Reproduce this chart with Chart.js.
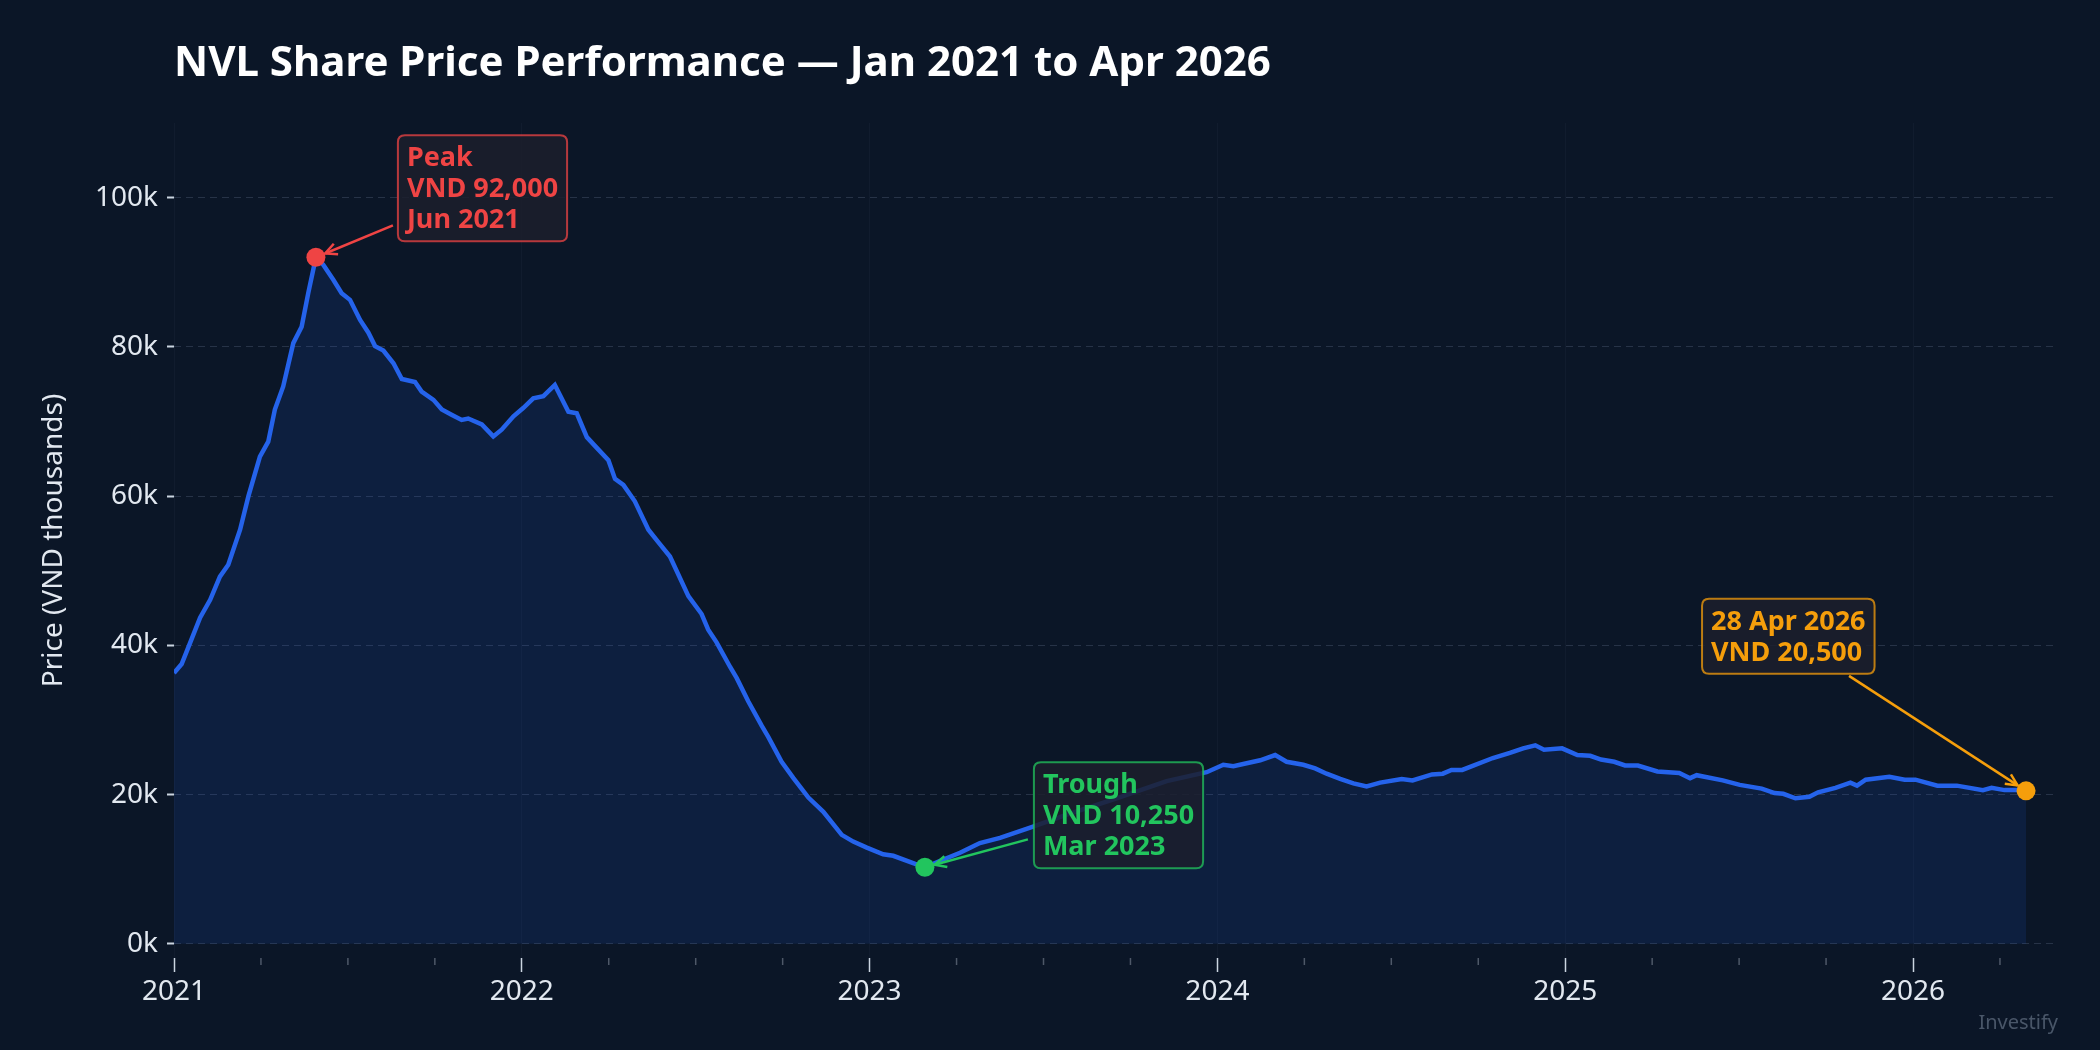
<!DOCTYPE html>
<html>
<head>
<meta charset="utf-8">
<title>NVL Share Price Performance</title>
<script src="https://cdn.jsdelivr.net/npm/chart.js@4.4.1/dist/chart.umd.min.js"></script>
<style>
  html, body { margin: 0; padding: 0; background: #0b1627; }
  #wrap { width: 2100px; height: 1050px; }
</style>
</head>
<body>
<div id="wrap"><canvas id="chart" width="2100" height="1050"></canvas></div>
<script>
// positions along the time axis, in decimal years
const xYears = [
  2021.000, 2021.022, 2021.046, 2021.075, 2021.104, 2021.132, 2021.156, 2021.190,
  2021.214, 2021.247, 2021.271, 2021.290, 2021.314, 2021.343, 2021.367, 2021.386,
  2021.408, 2021.429, 2021.458, 2021.482, 2021.506, 2021.535, 2021.559, 2021.578,
  2021.602, 2021.631, 2021.655, 2021.693, 2021.712, 2021.746, 2021.770, 2021.798,
  2021.827, 2021.846, 2021.885, 2021.918, 2021.942, 2021.976, 2022.004, 2022.033,
  2022.062, 2022.095, 2022.134, 2022.158, 2022.187, 2022.215, 2022.249, 2022.268,
  2022.292, 2022.325, 2022.364, 2022.393, 2022.426, 2022.479, 2022.517, 2022.536,
  2022.560, 2022.599, 2022.618, 2022.651, 2022.690, 2022.709, 2022.747, 2022.781,
  2022.824, 2022.867, 2022.920, 2022.953, 2022.992, 2023.039, 2023.068, 2023.131,
  2023.159, 2023.212, 2023.260, 2023.317, 2023.375, 2023.432, 2023.470, 2023.567,
  2023.710, 2023.854, 2023.969, 2024.017, 2024.046, 2024.084, 2024.123, 2024.166,
  2024.199, 2024.247, 2024.281, 2024.314, 2024.353, 2024.391, 2024.429, 2024.468,
  2024.530, 2024.561, 2024.617, 2024.648, 2024.673, 2024.704, 2024.792, 2024.841,
  2024.879, 2024.914, 2024.939, 2024.991, 2025.035, 2025.072, 2025.103, 2025.141,
  2025.172, 2025.209, 2025.265, 2025.328, 2025.359, 2025.378, 2025.453, 2025.502,
  2025.565, 2025.602, 2025.627, 2025.662, 2025.702, 2025.727, 2025.777, 2025.820,
  2025.839, 2025.864, 2025.932, 2025.976, 2026.007, 2026.070, 2026.126, 2026.201,
  2026.226, 2026.263, 2026.301, 2026.325
];

// closing price, VND
const prices = [
  36300, 37500, 40300, 43700, 46100, 49200, 50800, 55500,
  60000, 65300, 67300, 71600, 74700, 80500, 82700, 87200,
  92000, 91000, 89000, 87200, 86300, 83600, 81900, 80100,
  79500, 77800, 75700, 75300, 74000, 72900, 71600, 70900,
  70200, 70400, 69600, 68000, 68900, 70700, 71800, 73100,
  73400, 74900, 71300, 71100, 67900, 66500, 64800, 62300,
  61500, 59300, 55500, 53800, 51900, 46600, 44200, 42100,
  40400, 37100, 35600, 32500, 29200, 27700, 24400, 22200,
  19600, 17700, 14600, 13700, 12900, 12000, 11800, 10700,
  10250, 11300, 12200, 13500, 14200, 15100, 15700, 17300,
  19500, 21800, 23000, 24000, 23800, 24200, 24600, 25300,
  24400, 24000, 23500, 22800, 22100, 21500, 21100, 21600,
  22100, 21900, 22700, 22800, 23300, 23300, 24900, 25600,
  26200, 26600, 26000, 26200, 25300, 25200, 24700, 24400,
  23900, 23900, 23100, 22900, 22200, 22600, 21900, 21300,
  20800, 20200, 20100, 19500, 19700, 20300, 20900, 21600,
  21200, 22000, 22400, 22000, 22000, 21200, 21200, 20600,
  20900, 20600, 20600, 20500
];

// highlighted points: peak, trough, latest
const markerX = [2021.408, 2023.159, 2026.325];
const markerY = [92000, 10250, 20500];
const markerText = [
  ['Peak', 'VND 92,000', 'Jun 2021'],
  ['Trough', 'VND 10,250', 'Mar 2023'],
  ['28 Apr 2026', 'VND 20,500']
];

const yearTicks = [2021, 2022, 2023, 2024, 2025, 2026];
const priceTicks = [0, 20000, 40000, 60000, 80000, 100000];

// look of each callout: colour, box offset and arrow start relative to the point (px)
const markerColors = ['#ef4444', '#22c55e', '#f59e0b'];
const calloutStyle = [
  { box: [82, -122], arrow: [77, -32] },
  { box: [109, -105], arrow: [103, -28] },
  { box: [-324, -192], arrow: [-177, -115] }
];

const FONT = '"Noto Sans", "Open Sans", sans-serif';
const BG = '#0b1627';
const TEXT = '#e2e8f0';

const bgPlugin = {
  id: 'bg',
  beforeDraw(chart) {
    const ctx = chart.ctx;
    ctx.save();
    ctx.fillStyle = BG;
    ctx.fillRect(0, 0, chart.width, chart.height);
    ctx.restore();
  },
  afterDraw(chart) {
    const ctx = chart.ctx;
    const area = chart.chartArea;
    ctx.save();
    // title, aligned with the plot's left edge
    ctx.fillStyle = '#ffffff';
    ctx.font = 'bold 42px ' + FONT;
    ctx.textBaseline = 'alphabetic';
    ctx.textAlign = 'left';
    ctx.fillText('NVL Share Price Performance \u2014 Jan 2021 to Apr 2026', area.left, 76);

    // watermark
    ctx.fillStyle = 'rgba(148,163,184,0.45)';
    ctx.font = '20px ' + FONT;
    ctx.textAlign = 'right';
    ctx.textBaseline = 'middle';
    ctx.fillText('Investify', 2058, 1023);

    // quarterly minor ticks
    const x = chart.scales.x;
    ctx.strokeStyle = 'rgba(203,213,225,0.35)';
    ctx.lineWidth = 1.5;
    for (let yr = x.min; yr <= x.max; yr += 0.25) {
      if (Math.abs(yr - Math.round(yr)) < 1e-6) continue;
      const px = x.getPixelForValue(yr);
      ctx.beginPath();
      ctx.moveTo(px, area.bottom);
      ctx.lineTo(px, area.bottom + 7);
      ctx.stroke();
    }
    ctx.restore();
  }
};

function roundRect(ctx, x, y, w, h, r) {
  ctx.beginPath();
  ctx.moveTo(x + r, y);
  ctx.lineTo(x + w - r, y);
  ctx.quadraticCurveTo(x + w, y, x + w, y + r);
  ctx.lineTo(x + w, y + h - r);
  ctx.quadraticCurveTo(x + w, y + h, x + w - r, y + h);
  ctx.lineTo(x + r, y + h);
  ctx.quadraticCurveTo(x, y + h, x, y + h - r);
  ctx.lineTo(x, y + r);
  ctx.quadraticCurveTo(x, y, x + r, y);
  ctx.closePath();
}

const calloutPlugin = {
  id: 'callouts',
  afterDatasetsDraw(chart) {
    const ctx = chart.ctx;
    const xs = chart.scales.x;
    const ys = chart.scales.y;
    const lineH = 31;
    const pad = 6.5;

    markerX.forEach((mx, i) => {
      const px = xs.getPixelForValue(mx);
      const py = ys.getPixelForValue(markerY[i]);
      const color = markerColors[i];
      const style = calloutStyle[i];
      const lines = markerText[i];

      ctx.save();
      ctx.font = 'bold 27px ' + FONT;
      const textW = Math.max(...lines.map(l => ctx.measureText(l).width));
      const bw = textW + 18;
      const bh = lines.length * lineH + pad * 2;
      const bx = px + style.box[0];
      const by = py + style.box[1];

      // arrow from box to point
      const sx = px + style.arrow[0];
      const sy = py + style.arrow[1];
      const ang = Math.atan2(py - sy, px - sx);
      const tx = px - Math.cos(ang) * 10;
      const ty = py - Math.sin(ang) * 10;
      ctx.strokeStyle = color;
      ctx.lineWidth = 2.5;
      ctx.beginPath();
      ctx.moveTo(sx, sy);
      ctx.lineTo(tx, ty);
      ctx.stroke();
      const head = 13;
      ctx.beginPath();
      ctx.moveTo(tx - head * Math.cos(ang - 0.45), ty - head * Math.sin(ang - 0.45));
      ctx.lineTo(tx, ty);
      ctx.lineTo(tx - head * Math.cos(ang + 0.45), ty - head * Math.sin(ang + 0.45));
      ctx.stroke();

      // box
      roundRect(ctx, bx, by, bw, bh, 7);
      ctx.fillStyle = 'rgba(28,30,44,0.86)';
      ctx.fill();
      ctx.globalAlpha = 0.75;
      ctx.strokeStyle = color;
      ctx.lineWidth = 2;
      ctx.stroke();
      ctx.globalAlpha = 1;

      ctx.fillStyle = color;
      ctx.textAlign = 'left';
      ctx.textBaseline = 'middle';
      lines.forEach((l, j) => {
        ctx.fillText(l, bx + 9, by + pad + lineH * (j + 0.5) + 1);
      });
      ctx.restore();
    });
  }
};

const priceData = xYears.map((x, i) => ({ x: x, y: prices[i] }));
const markerSets = markerX.map((x, i) => ({
  data: [{ x: x, y: markerY[i] }],
  showLine: false,
  pointRadius: 9.5,
  pointHoverRadius: 9.5,
  pointBackgroundColor: markerColors[i],
  pointBorderWidth: 0,
  order: 0
}));

const ctx = document.getElementById('chart');
new Chart(ctx, {
  type: 'line',
  data: {
    datasets: [{
      label: 'NVL',
      data: priceData,
      borderColor: '#2563eb',
      borderWidth: 4.5,
      backgroundColor: 'rgba(37,99,235,0.12)',
      fill: 'origin',
      pointRadius: 0,
      tension: 0,
      order: 1
    }].concat(markerSets)
  },
  options: {
    responsive: false,
    devicePixelRatio: 1,
    animation: false,
    layout: { padding: { left: 0, right: 43, top: 123, bottom: 32 } },
    plugins: {
      legend: { display: false },
      tooltip: { enabled: false },
      title: { display: false }
    },
    scales: {
      x: {
        type: 'linear',
        min: 2021,
        max: 2026.414,
        afterBuildTicks(scale) {
          scale.ticks = yearTicks.map(v => ({ value: v }));
        },
        afterFit(scale) { scale.height = 60; },
        ticks: {
          color: TEXT,
          font: { family: FONT, size: 28 },
          padding: 3,
          maxRotation: 0,
          callback: v => String(v)
        },
        grid: {
          color: 'rgba(100,116,139,0.07)',
          lineWidth: 1,
          tickColor: '#cbd5e1',
          tickLength: 14,
          tickWidth: 1.5
        },
        border: { display: false }
      },
      y: {
        min: -1900,
        max: 110000,
        afterBuildTicks(scale) {
          scale.ticks = priceTicks.map(v => ({ value: v }));
        },
        afterFit(scale) { scale.width = 174; },
        ticks: {
          color: TEXT,
          font: { family: FONT, size: 28 },
          padding: 9,
          callback: v => (v / 1000) + 'k'
        },
        grid: {
          color: 'rgba(100,116,139,0.32)',
          lineWidth: 1,
          tickColor: '#cbd5e1',
          tickLength: 7,
          tickWidth: 2,
          tickBorderDash: []
        },
        border: { display: false, dash: [7, 5] },
        title: {
          display: true,
          text: 'Price (VND thousands)',
          color: TEXT,
          font: { family: FONT, size: 28 },
          padding: { top: 37, bottom: 0 }
        }
      }
    }
  },
  plugins: [bgPlugin, calloutPlugin]
});
</script>
</body>
</html>
